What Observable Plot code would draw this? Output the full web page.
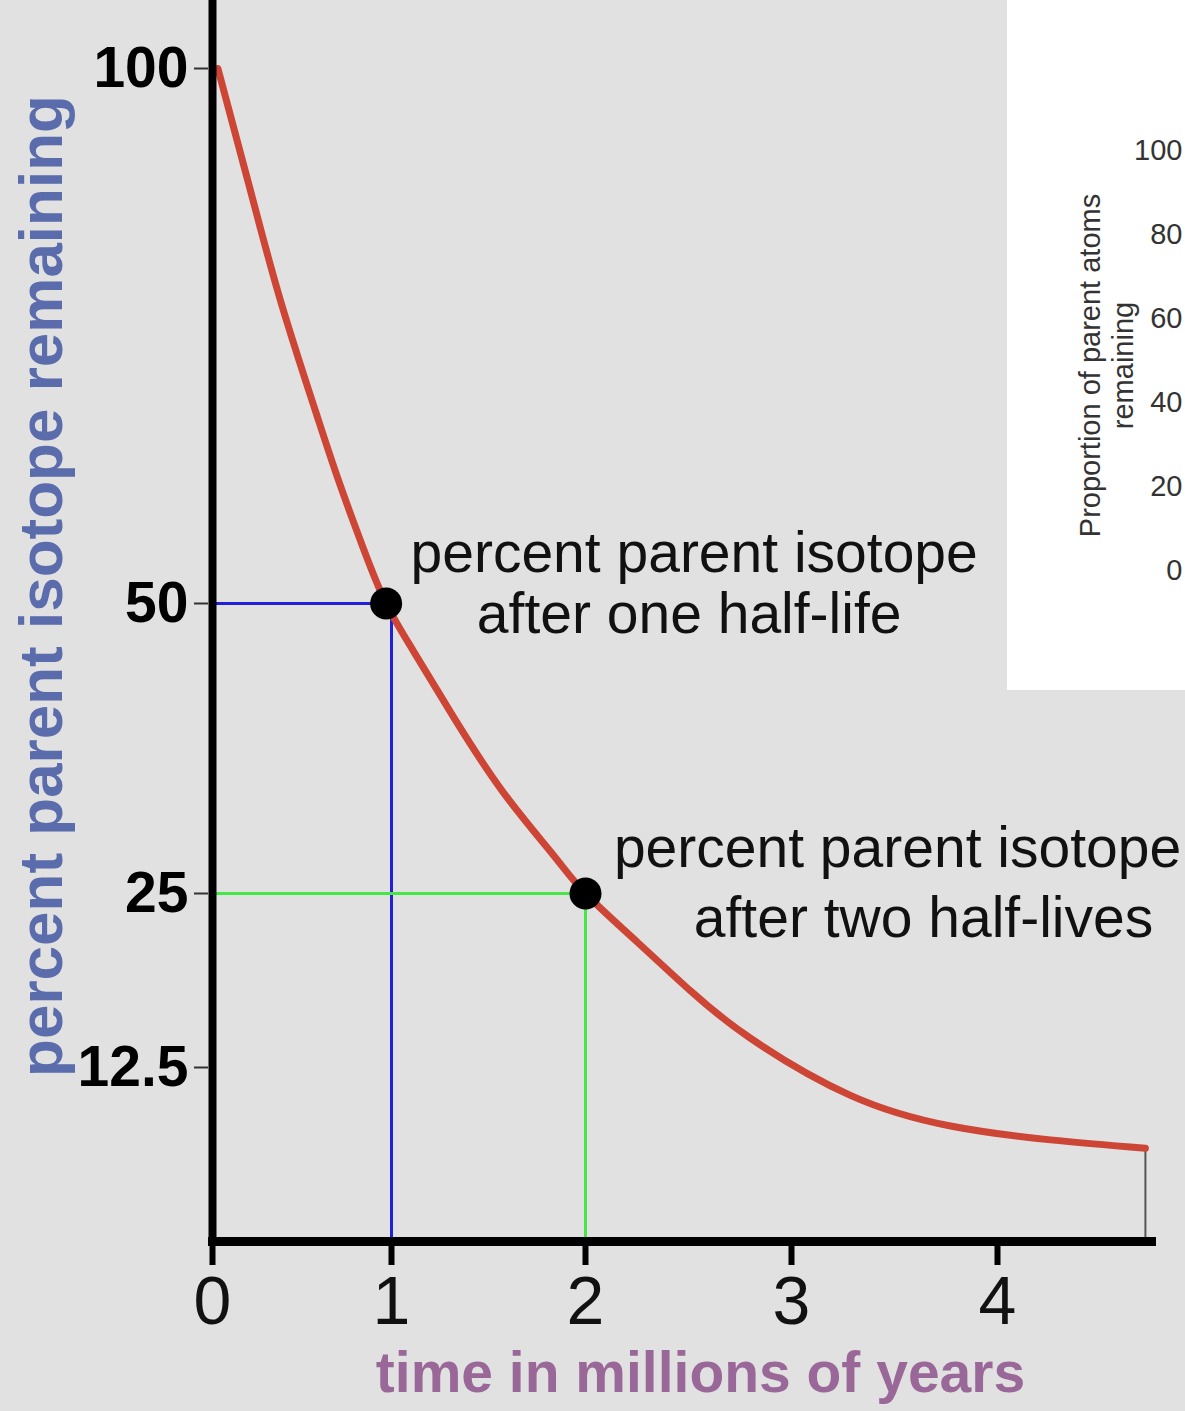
<!DOCTYPE html>
<html>
<head>
<meta charset="utf-8">
<script src="https://cdn.jsdelivr.net/npm/d3@7"></script>
<script src="https://cdn.jsdelivr.net/npm/@observablehq/plot@0.6"></script>
<style>
  html, body { margin: 0; padding: 0; background: #e1e1e1; }
  #wrap { position: relative; width: 1185px; height: 1411px; overflow: hidden; }
  #inset { position: absolute; left: 1007px; top: 0; width: 178px; height: 690px; background: #ffffff; }
  svg { display: block; }
</style>
</head>
<body>
<div id="wrap">
  <div id="main"></div>
  <div id="inset"></div>
</div>
<script>
// Radioactive decay curve: time (millions of years) vs percent of parent isotope remaining
const decayTime    = [0.03, 0.212, 0.38, 0.575, 0.704, 0.844, 0.97, 1.113, 1.32, 1.577, 1.835, 2.0, 2.252, 2.51, 2.801, 3.286, 3.772, 4.257, 4.718];
const decayPercent = [100, 88.6, 78.3, 68.0, 61.5, 55.1, 50, 45.9, 40.2, 33.7, 28.3, 25, 21.5, 18.0, 14.6, 10.5, 8.3, 7.3, 6.7];

// Marked points after one and two half-lives
const halfLifeTime    = [0.97, 2];
const halfLifePercent = [50, 25];

// Guide lines from the axes to each marked point
const guideOneTime    = [0, 1, 1];
const guideOnePercent = [50, 50, 0];
const guideTwoTime    = [0, 2, 2];
const guideTwoPercent = [25, 25, 0];

// Tick values
const timeTicks    = [0, 1, 2, 3, 4];
const percentTicks = [100, 50, 25, 12.5];

// Annotation lines
const noteOne = ["percent parent isotope", "after one half-life"];
const noteTwo = ["percent parent isotope", "after two half-lives"];

// Inset axis (proportion of parent atoms)
const insetTicks = [0, 20, 40, 60, 80, 100];
const insetLabel = "Proportion of parent atoms\nremaining";

const curve = decayTime.map((t, i) => ({t, p: decayPercent[i]}));
const points = halfLifeTime.map((t, i) => ({t, p: halfLifePercent[i]}));
const guideOne = guideOneTime.map((t, i) => ({t, p: guideOnePercent[i]}));
const guideTwo = guideTwoTime.map((t, i) => ({t, p: guideTwoPercent[i]}));
const last = curve[curve.length - 1];

const font = "'Liberation Sans', Arial, Helvetica, sans-serif";

const main = Plot.plot({
  width: 1185,
  height: 1411,
  marginLeft: 208,
  marginRight: 29,
  marginTop: 0,
  marginBottom: 170,
  style: {background: "#e1e1e1", fontFamily: font, overflow: "visible"},
  x: {type: "linear", domain: [0, 1, 2, 3, 4], range: [212, 391, 585, 791, 997], label: null},
  y: {type: "linear", domain: [0, 12.5, 25, 50, 100], range: [1241, 1067, 893, 603, 68], label: null},
  marks: [
    // guide lines
    Plot.line(guideOne, {x: "t", y: "p", stroke: "#2020d8", strokeWidth: 3}),
    Plot.line(guideTwo, {x: "t", y: "p", stroke: "#46e646", strokeWidth: 3}),
    // end marker of the curve
    Plot.ruleX([last], {x: "t", y1: 0, y2: "p", stroke: "#555", strokeWidth: 2}),
    // decay curve
    Plot.line(curve, {x: "t", y: "p", curve: "natural", stroke: "#cc4535", strokeWidth: 7}),
    // half-life points
    Plot.dot(points, {x: "t", y: "p", r: 16, fill: "black"}),
    // axes lines
    Plot.ruleX([0], {stroke: "black", strokeWidth: 8}),
    Plot.ruleY([0], {stroke: "black", strokeWidth: 9}),
    // x axis
    Plot.axisX(timeTicks, {
      tickSize: 24, tickPadding: 10, strokeWidth: 6, stroke: "black",
      fill: "#111", fontSize: 68, tickFormat: d => d
    }),
    // y axis
    Plot.axisY(percentTicks, {
      tickSize: 14, tickPadding: 6, strokeWidth: 2, stroke: "#333",
      fill: "black", fontSize: 57, fontWeight: "bold",
      tickFormat: d => String(d)
    }),
    // axis titles
    Plot.text(["percent parent isotope remaining"], {
      frameAnchor: "left", textAnchor: "middle", lineAnchor: "middle", rotate: -90, dx: -166, dy: -35,
      fontSize: 62, fontWeight: "bold", fill: "#5a6cab"
    }),
    Plot.text(["time in millions of years"], {
      frameAnchor: "bottom", textAnchor: "middle", lineAnchor: "middle", dx: 18, dy: 132,
      fontSize: 57, fontWeight: "bold", fill: "#9a6898"
    }),
    // annotations
    Plot.text([points[0]], {x: "t", y: "p", text: () => noteOne[0], dx: 308, dy: -50, fontSize: 57, fill: "#111"}),
    Plot.text([points[0]], {x: "t", y: "p", text: () => noteOne[1], dx: 303, dy: 11, fontSize: 57, fill: "#111"}),
    Plot.text([points[1]], {x: "t", y: "p", text: () => noteTwo[0], dx: 312, dy: -45, fontSize: 57, fill: "#111"}),
    Plot.text([points[1]], {x: "t", y: "p", text: () => noteTwo[1], dx: 338, dy: 25, fontSize: 57, fill: "#111"})
  ]
});
document.getElementById("main").appendChild(main);

const inset = Plot.plot({
  width: 178,
  height: 690,
  marginLeft: 175,
  marginRight: 0,
  marginTop: 0,
  marginBottom: 0,
  style: {background: "#ffffff", fontFamily: font, overflow: "visible"},
  y: {domain: [0, 100], range: [570, 150], label: null},
  marks: [
    Plot.axisY(insetTicks, {tickSize: 0, tickPadding: 0, fontSize: 29, fill: "#333", label: null}),
    Plot.text([insetLabel], {
      frameAnchor: "top-left", textAnchor: "middle", lineAnchor: "middle",
      dx: -77, dy: 365, rotate: -90,
      fontSize: 29, lineHeight: 1.15, fill: "#333"
    })
  ]
});
document.getElementById("inset").appendChild(inset);
</script>
</body>
</html>
